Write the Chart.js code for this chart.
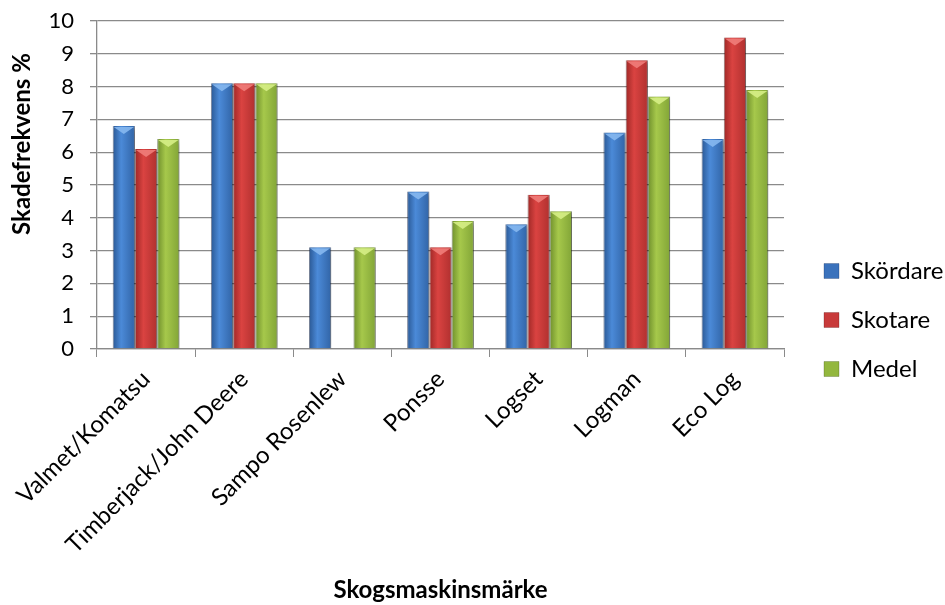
<!DOCTYPE html>
<html>
<head>
<meta charset="utf-8">
<script src="https://cdn.jsdelivr.net/npm/chart.js@4.4.1/dist/chart.umd.min.js"></script>
<style>
  html, body { margin: 0; padding: 0; background: #ffffff; }
  #wrap { width: 945px; height: 605px; position: relative; }
</style>
</head>
<body>
<div id="wrap"><canvas id="chart"></canvas></div>
<script>
// Skadefrekvens per skogsmaskinsmärke (%)
const categories = ['Valmet/Komatsu', 'Timberjack/John Deere', 'Sampo Rosenlew', 'Ponsse', 'Logset', 'Logman', 'Eco Log'];
const skordare = [6.8, 8.1, 3.1, 4.8, 3.8, 6.6, 6.4];
const skotare  = [6.1, 8.1, 0,   3.1, 4.7, 8.8, 9.5];
const medel    = [6.4, 8.1, 3.1, 3.9, 4.2, 7.7, 7.9];
const yTicks   = [0, 1, 2, 3, 4, 5, 6, 7, 8, 9, 10];

const FONT = 'Lato, "Open Sans", sans-serif';
const GRID = '#8a8a8a';

// shading for the bevelled bars: left edge, highlight, right edge, top cap
const shades = [
  { base: '#3a72bc', edge: '#2a5894', light: '#4b8ad8', right: '#3164a6', cap: '#86b8f0' },
  { base: '#c83a3a', edge: '#9e2826', light: '#da4341', right: '#b0302f', cap: '#f07d7a' },
  { base: '#93b73e', edge: '#6f8f2c', light: '#a6c84b', right: '#82a537', cap: '#d6ee86' }
];

const barStyle = {
  id: 'barStyle',
  beforeDatasetsDraw(chart) {
    const ctx = chart.ctx;
    chart.data.datasets.forEach((ds, i) => {
      const meta = chart.getDatasetMeta(i);
      const s = shades[i];
      meta.data.forEach(bar => {
        const l = bar.x - bar.width / 2, r = bar.x + bar.width / 2;
        const g = ctx.createLinearGradient(l, 0, r, 0);
        g.addColorStop(0, s.edge);
        g.addColorStop(0.38, s.light);
        g.addColorStop(1, s.right);
        bar.options = Object.assign({}, bar.options, { backgroundColor: g });
      });
    });
    ctx.save();
    ctx.shadowColor = 'rgba(0,0,0,0.35)';
    ctx.shadowBlur = 6;
    ctx.shadowOffsetX = 3;
    ctx.shadowOffsetY = 2;
  },
  afterDatasetsDraw(chart) {
    const ctx = chart.ctx;
    ctx.restore();
    chart.data.datasets.forEach((ds, i) => {
      const meta = chart.getDatasetMeta(i);
      const s = shades[i];
      meta.data.forEach((bar, j) => {
        if (!ds.data[j]) return;
        const l = bar.x - bar.width / 2 + 1, r = bar.x + bar.width / 2 - 1;
        const depth = bar.width * 0.36;
        ctx.save();
        ctx.beginPath();
        ctx.moveTo(l, bar.y + 1);
        ctx.lineTo(r, bar.y + 1);
        ctx.lineTo(bar.x, bar.y + depth);
        ctx.closePath();
        ctx.fillStyle = s.cap;
        ctx.globalAlpha = 0.9;
        ctx.fill();
        ctx.restore();
      });
    });
  }
};

// y axis title, placed in the reserved left margin
const yTitle = {
  id: 'yTitle',
  afterDraw(chart) {
    const ctx = chart.ctx;
    ctx.save();
    ctx.translate(22, 144);
    ctx.rotate(-Math.PI / 2);
    ctx.font = 'bold 24px ' + FONT;
    ctx.fillStyle = '#000';
    ctx.textAlign = 'center';
    ctx.textBaseline = 'middle';
    ctx.fillText('Skadefrekvens %', 0, 0);
    ctx.restore();
  }
};

// legend sizing / placement on the right side
const legendPlace = {
  id: 'legendPlace',
  afterInit(chart) {
    const lg = chart.legend;
    const fit = lg.fit;
    lg.fit = function () { fit.call(this); this.width = 161; };
  },
  afterLayout(chart) {
    const lg = chart.legend;
    const dx = 799 - lg.left;
    lg.left += dx; lg.right += dx;
    lg.top += 7; lg.bottom += 7;
  }
};

new Chart(document.getElementById('chart'), {
  type: 'bar',
  data: {
    labels: categories,
    datasets: [
      { label: 'Skördare', data: skordare, backgroundColor: shades[0].base, borderColor: 'rgba(20,40,80,0.55)' },
      { label: 'Skotare',  data: skotare,  backgroundColor: shades[1].base, borderColor: 'rgba(80,20,20,0.55)' },
      { label: 'Medel',    data: medel,    backgroundColor: shades[2].base, borderColor: 'rgba(50,70,20,0.55)' }
    ]
  },
  options: {
    responsive: true,
    maintainAspectRatio: false,
    animation: false,
    events: [],
    layout: { padding: { top: 21, right: 0, bottom: 0, left: 0 } },
    datasets: {
      bar: {
        categoryPercentage: 0.68,
        barPercentage: 1,
        borderWidth: { left: 1, right: 1, top: 0, bottom: 0 },
        borderSkipped: false
      }
    },
    plugins: {
      legend: {
        position: 'right',
        align: 'center',
        labels: {
          font: { family: FONT, size: 24 },
          color: '#000',
          boxWidth: 15,
          boxHeight: 15,
          padding: 25
        }
      },
      tooltip: { enabled: false }
    },
    scales: {
      x: {
        offset: true,
        grid: { display: true, drawOnChartArea: false, drawTicks: true, tickLength: 8, color: GRID, offset: true },
        border: { display: true, color: GRID, width: 1.3 },
        ticks: {
          font: { family: FONT, size: 24 },
          color: '#000',
          minRotation: 45,
          maxRotation: 45,
          padding: 8,
          autoSkip: false
        },
        title: {
          display: true,
          text: 'Skogsmaskinsmärke',
          font: { family: FONT, size: 24, weight: 'bold' },
          color: '#000',
          padding: { top: 0, bottom: 0 }
        },
        afterFit(scale) { scale.height = 256; }
      },
      y: {
        min: 0,
        max: 10,
        afterBuildTicks(scale) { scale.ticks = yTicks.map(v => ({ value: v })); },
        grid: { color: GRID, lineWidth: 1.3, tickLength: 7, drawTicks: true },
        border: { display: true, color: GRID, width: 1.3 },
        ticks: {
          font: { family: FONT, size: 22 },
          color: '#000',
          padding: 16
        },
        afterFit(scale) {
          scale.width = 97;
          scale.paddingTop = 13;
          scale.paddingBottom = 13;
        }
      }
    }
  },
  plugins: [barStyle, yTitle, legendPlace]
});
</script>
</body>
</html>
